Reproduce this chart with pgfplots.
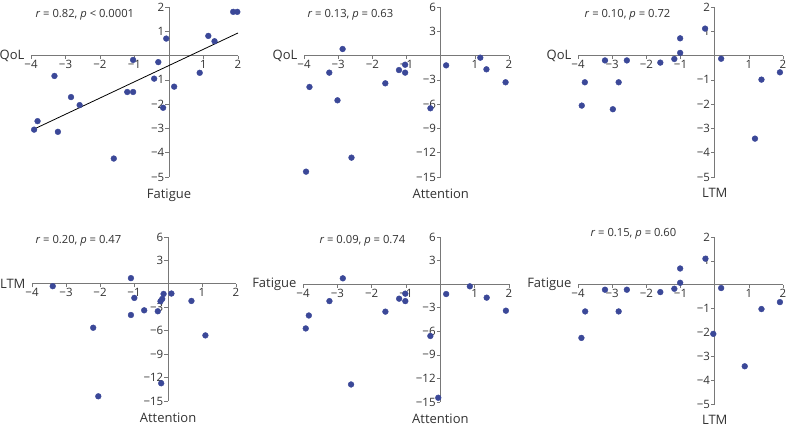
\documentclass[border=0pt]{standalone}
\usepackage{fontspec}
\setmainfont{Open Sans}
\usepackage{pgfplots}
\pgfplotsset{compat=1.18}
\definecolor{ptblue}{RGB}{59,72,152}
\definecolor{axgray}{RGB}{120,120,120}
\definecolor{txt}{RGB}{50,50,50}
\newcommand{\tickfont}{\fontsize{11.5}{13}\selectfont}
\newcommand{\labfont}{\fontsize{13}{15}\selectfont}
\newcommand{\annfont}{\fontsize{11.2}{13}\selectfont}
\pgfplotsset{
  panel/.style={
    scale only axis,
    axis lines=center,
    axis line style={-, draw=axgray, line width=0.9pt},
    enlargelimits=false,
    xmin=-4, xmax=2,
    xtick={-4,-3,-2,-1,1,2},
    xticklabels={−4,−3,−2,−1,1,2},
    tick style={draw=axgray, line width=0.6pt},
    tick align=outside,
    major tick length=3.5pt,
    minor tick length=2pt,
    tick label style={font=\tickfont, text=txt, inner sep=1pt},
    every axis x label/.style={at={(axis description cs:0.667,0)}, anchor=north, yshift=-8pt, font=\labfont, text=txt},
    every axis y label/.style={at={(axis description cs:0,0.714)}, anchor=east, xshift=-3pt, font=\labfont, text=txt},
    clip=false,
  },
  smallr/.style={ymin=-5, ymax=2, ytick={-5,-4,-3,-2,-1,1,2}, yticklabels={−5,−4,−3,−2,−1,1,2}},
  larger/.style={ymin=-15, ymax=6, ytick={-15,-12,-9,-6,-3,3,6}, yticklabels={−15,−12,−9,−6,−3,3,6}, minor y tick num=2},
  pts/.style={only marks, mark=*, mark size=2.9pt, mark options={draw=ptblue, fill=ptblue}},
}
\begin{document}
\begin{tikzpicture}
\useasboundingbox (0,0) rectangle (788pt,427pt);
% Panel 1: QoL vs Fatigue
\begin{axis}[panel, smallr, width=207pt, height=170pt, at={(31pt,250pt)}, anchor=south west,
  xlabel={Fatigue}, ylabel={QoL}]
\addplot[pts] coordinates {
(-3.91,-3.05) (-3.81,-2.70) (-3.32,-0.84) (-3.22,-3.14) (-2.84,-1.71)
(-2.59,-2.04) (-1.60,-4.24) (-1.21,-1.50) (-1.04,-1.50) (-1.04,-0.18)
(-0.43,-0.95) (-0.31,-0.27) (-0.17,-2.15) (-0.08,0.70) (0.15,-1.28)
(0.89,-0.71) (1.14,0.81) (1.32,0.59) (1.86,1.80) (1.98,1.80)};
\addplot[black, line width=0.8pt] coordinates {(-3.9,-3.02) (2.0,0.93)};
\node[anchor=west, font=\annfont, text=txt] at (axis description cs:0.005,0.953) {\textit{r} = 0.82, \textit{p} < 0.0001};
\end{axis}
% Panel 2: QoL vs Attention
\begin{axis}[panel, larger, width=205pt, height=170pt, at={(304pt,250pt)}, anchor=south west,
  xlabel={Attention}, ylabel={QoL}]
\addplot[pts] coordinates {
(-3.94,-14.34) (-3.84,-3.88) (-3.26,-2.11) (-3.02,-5.53) (-2.87,0.81)
(-2.61,-12.61) (-1.62,-3.43) (-1.22,-1.79) (-1.04,-1.13) (-1.04,-2.11)
(-0.30,-6.51) (0.16,-1.21) (1.16,-0.26) (1.34,-1.70) (1.90,-3.30)};
\node[anchor=west, font=\annfont, text=txt] at (axis description cs:0.0,0.953) {\textit{r} = 0.13, \textit{p} = 0.63};
\end{axis}
% Panel 3: QoL vs LTM
\begin{axis}[panel, smallr, width=205pt, height=170pt, at={(578pt,250pt)}, anchor=south west,
  xlabel={LTM}, ylabel={QoL}]
\addplot[pts] coordinates {
(-3.89,-2.06) (-3.80,-1.10) (-3.21,-0.20) (-2.98,-2.21) (-2.81,-1.10)
(-2.57,-0.20) (-1.59,-0.29) (-1.18,-0.14) (-1.01,0.11) (-1.01,0.71)
(-0.28,1.11) (0.19,-0.13) (1.18,-3.42) (1.37,-0.99) (1.91,-0.69)};
\node[anchor=west, font=\annfont, text=txt] at (axis description cs:0.015,0.953) {\textit{r} = 0.10, \textit{p} = 0.72};
\end{axis}
% Panel 4: LTM vs Attention
\begin{axis}[panel, larger, width=204pt, height=164pt, at={(32pt,26pt)}, anchor=south west,
  xlabel={Attention}, ylabel={LTM}]
\addplot[pts] coordinates {
(-3.39,-0.30) (-1.09,0.73) (-0.99,-1.80) (-1.09,-3.99) (-2.20,-5.62)
(-2.05,-14.40) (-0.70,-3.39) (-0.30,-3.51) (-0.22,-2.23) (-0.17,-1.93)
(-0.13,-1.29) (-0.20,-12.73) (0.10,-1.24) (0.69,-2.19) (1.10,-6.60)};
\node[anchor=west, font=\annfont, text=txt] at (axis description cs:0.0,0.976) {\textit{r} = 0.20, \textit{p} = 0.47};
\end{axis}
% Panel 5: Fatigue vs Attention
\begin{axis}[panel, larger, width=206pt, height=165pt, at={(303pt,25pt)}, anchor=south west,
  xlabel={Attention}, ylabel={Fatigue}]
\addplot[pts] coordinates {
(-3.92,-5.64) (-3.83,-3.99) (-3.23,-2.16) (-2.84,0.74) (-2.60,-12.77)
(-1.60,-3.50) (-1.20,-1.85) (-1.02,-1.21) (-1.02,-2.16) (-0.29,-6.60)
(-0.06,-14.46) (0.17,-1.26) (0.86,-0.28) (1.35,-1.72) (1.91,-3.38)};
\node[anchor=west, font=\annfont, text=txt] at (axis description cs:0.063,0.976) {\textit{r} = 0.09, \textit{p} = 0.74};
\end{axis}
% Panel 6: Fatigue vs LTM
\begin{axis}[panel, smallr, width=205pt, height=167pt, at={(578pt,23pt)}, anchor=south west,
  xlabel={LTM}, ylabel={Fatigue}]
\addplot[pts] coordinates {
(-3.90,-2.23) (-3.79,-1.12) (-3.21,-0.21) (-2.81,-1.12) (-2.57,-0.21)
(-1.59,-0.31) (-1.18,-0.17) (-1.01,0.08) (-1.01,0.68) (-0.27,1.09)
(-0.04,-2.06) (0.19,-0.14) (0.88,-3.42) (1.37,-1.02) (1.91,-0.73)};
\node[anchor=west, font=\annfont, text=txt] at (axis description cs:0.044,1.018) {\textit{r} = 0.15, \textit{p} = 0.60};
\end{axis}
\end{tikzpicture}
\end{document}
